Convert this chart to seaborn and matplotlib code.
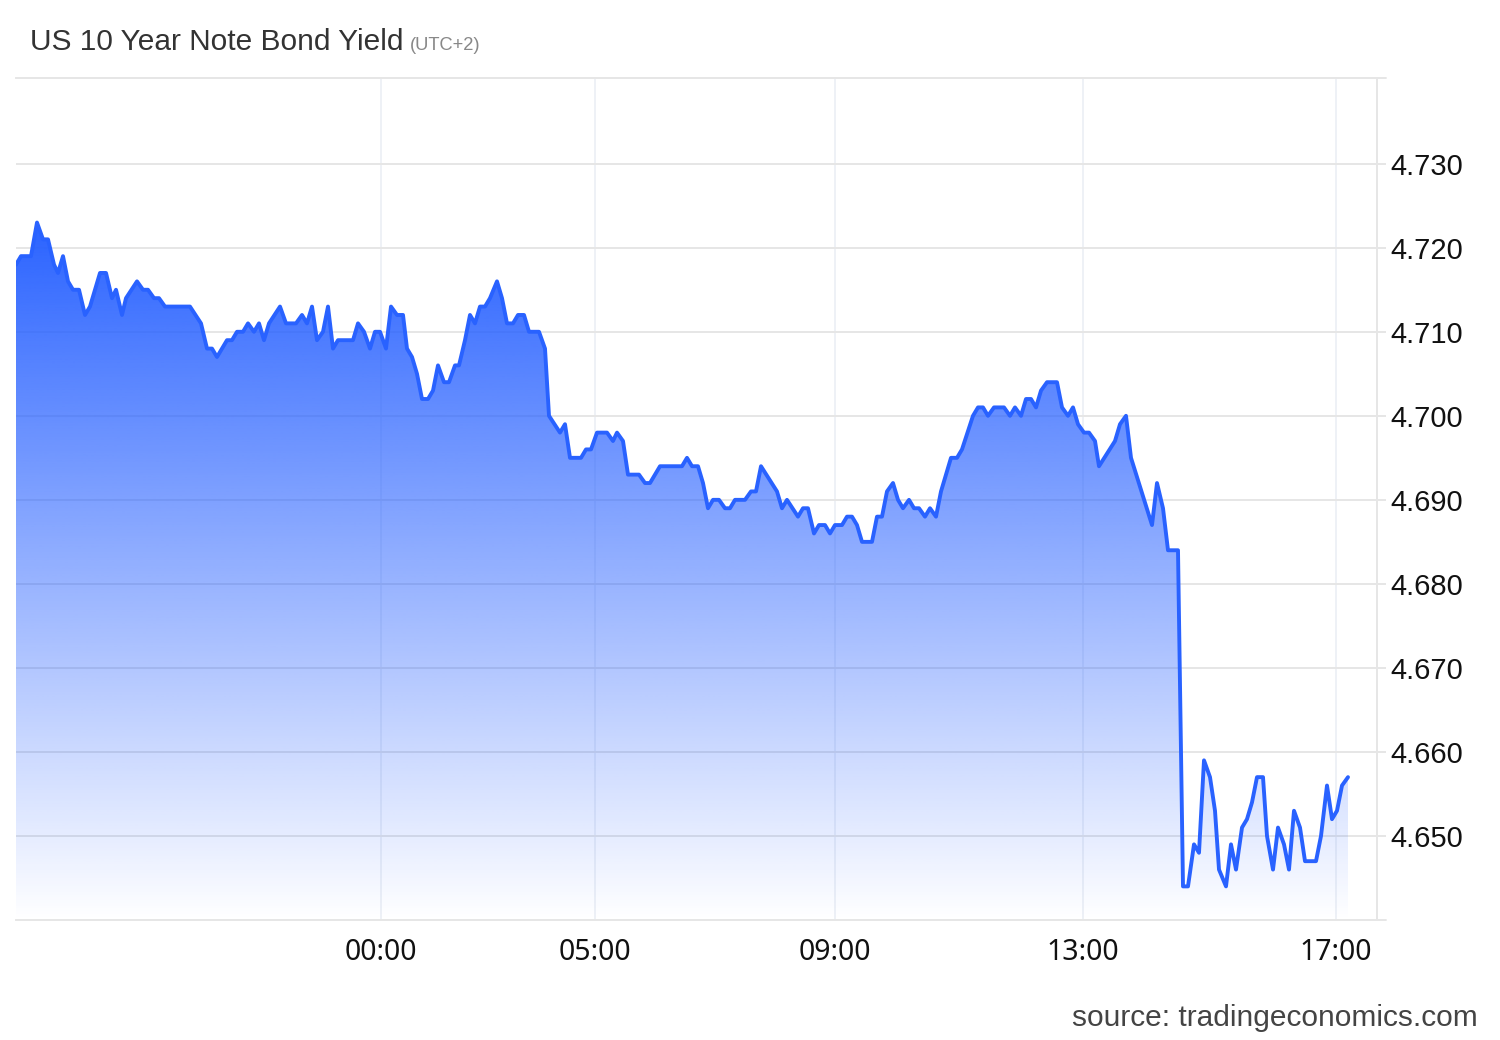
import numpy as np
import pandas as pd
import matplotlib
matplotlib.use("Agg")
import matplotlib.pyplot as plt
import seaborn as sns
from matplotlib.patches import Polygon

# ---------------- data ----------------
x_pos = [0, 5, 11, 15, 21, 27, 32, 38, 42, 47, 52, 57, 63, 69, 74, 84, 90, 96, 100, 106,
         110, 121, 127, 132, 138, 143, 149, 174, 185, 191, 196, 201, 211, 216, 221, 227, 232, 238,
         243, 248, 253, 264, 270, 280, 286, 291, 296, 301, 307, 312, 317, 322, 337, 342, 348, 354,
         359, 364, 370, 375, 381, 387, 391, 396, 401, 406, 412, 417, 422, 428, 433, 439, 443, 449,
         454, 459, 464, 469, 474, 481, 486, 491, 497, 502, 508, 513, 523, 529, 533, 544, 549, 554,
         565, 570, 575, 581, 591, 597, 601, 607, 612, 623, 629, 634, 644, 666, 671, 676, 682, 687,
         692, 697, 703, 709, 714, 719, 729, 735, 740, 745, 761, 766, 771, 782, 787, 792, 798, 803,
         809, 814, 819, 826, 831, 836, 841, 846, 856, 861, 866, 871, 877, 882, 887, 893, 898, 903,
         909, 914, 920, 925, 935, 941, 946, 957, 962, 967, 972, 978, 988, 994, 999, 1005, 1010,
         1015, 1020, 1025, 1031, 1041, 1046, 1052, 1057, 1062, 1068, 1073, 1079, 1083, 1099, 1104,
         1110, 1115, 1136, 1141, 1147, 1152, 1162, 1167, 1172, 1178, 1183, 1188, 1194, 1199, 1203,
         1210, 1215, 1220, 1226, 1231, 1236, 1241, 1247, 1251, 1257, 1262, 1268, 1273, 1278, 1284,
         1289, 1300, 1305, 1311, 1316, 1321, 1326, 1332]
yield_pct = [4.718, 4.719, 4.719, 4.719, 4.723, 4.721, 4.721, 4.718, 4.717, 4.719, 4.716, 4.715,
             4.715, 4.712, 4.713, 4.717, 4.717, 4.714, 4.715, 4.712, 4.714, 4.716, 4.715, 4.715,
             4.714, 4.714, 4.713, 4.713, 4.711, 4.708, 4.708, 4.707, 4.709, 4.709, 4.710, 4.710,
             4.711, 4.710, 4.711, 4.709, 4.711, 4.713, 4.711, 4.711, 4.712, 4.711, 4.713, 4.709,
             4.710, 4.713, 4.708, 4.709, 4.709, 4.711, 4.710, 4.708, 4.710, 4.710, 4.708, 4.713,
             4.712, 4.712, 4.708, 4.707, 4.705, 4.702, 4.702, 4.703, 4.706, 4.704, 4.704, 4.706,
             4.706, 4.709, 4.712, 4.711, 4.713, 4.713, 4.714, 4.716, 4.714, 4.711, 4.711, 4.712,
             4.712, 4.710, 4.710, 4.708, 4.700, 4.698, 4.699, 4.695, 4.695, 4.696, 4.696, 4.698,
             4.698, 4.697, 4.698, 4.697, 4.693, 4.693, 4.692, 4.692, 4.694, 4.694, 4.695, 4.694,
             4.694, 4.692, 4.689, 4.690, 4.690, 4.689, 4.689, 4.690, 4.690, 4.691, 4.691, 4.694,
             4.691, 4.689, 4.690, 4.688, 4.689, 4.689, 4.686, 4.687, 4.687, 4.686, 4.687, 4.687,
             4.688, 4.688, 4.687, 4.685, 4.685, 4.688, 4.688, 4.691, 4.692, 4.690, 4.689, 4.690,
             4.689, 4.689, 4.688, 4.689, 4.688, 4.691, 4.695, 4.695, 4.696, 4.700, 4.701, 4.701,
             4.700, 4.701, 4.701, 4.700, 4.701, 4.700, 4.702, 4.702, 4.701, 4.703, 4.704, 4.704,
             4.701, 4.700, 4.701, 4.699, 4.698, 4.698, 4.697, 4.694, 4.697, 4.699, 4.700, 4.695,
             4.687, 4.692, 4.689, 4.684, 4.684, 4.644, 4.644, 4.649, 4.648, 4.659, 4.657, 4.653,
             4.646, 4.644, 4.649, 4.646, 4.651, 4.652, 4.654, 4.657, 4.657, 4.650, 4.646, 4.651,
             4.649, 4.646, 4.653, 4.651, 4.647, 4.647, 4.650, 4.656, 4.652, 4.653, 4.656, 4.657]

tick_pos = [365, 579, 819, 1067, 1320]
tick_labels = ["00:00", "05:00", "09:00", "13:00", "17:00"]
y_ticks = [4.650, 4.660, 4.670, 4.680, 4.690, 4.700, 4.710, 4.720, 4.730]

title = "US 10 Year Note Bond Yield"
subtitle = "(UTC+2)"
source = "source: tradingeconomics.com"

df = pd.DataFrame({"pos": x_pos, "yield": yield_pct})

# ---------------- styling ----------------
sns.set_style("white")
plt.rcParams["font.family"] = ["Liberation Sans", "DejaVu Sans"]

LINE = "#2962ff"
GRID = "#e6e6e6"
VGRID = "#eef1f6"

W, H = 1500, 1040
fig = plt.figure(figsize=(W / 100, H / 100), dpi=100)
ax = fig.add_axes([16 / W, 1 - 920 / H, (1377 - 16) / W, (920 - 78) / H])

YMIN, YMAX = 4.640, 4.7402
XMAX = 1361
ax.set_xlim(0, XMAX)
ax.set_ylim(YMIN, YMAX)

# vertical + horizontal grid
for t in tick_pos:
    ax.axvline(t, color=VGRID, lw=1.4, zorder=0)
for yt in y_ticks:
    ax.axhline(yt, color=GRID, lw=1.4, zorder=0)

# gradient fill below the line
rgb = np.array(matplotlib.colors.to_rgb(LINE))
ny = 600
yy = np.linspace(YMAX, YMIN, ny)
alpha = np.clip((yy - YMIN) / 0.0833, 0, 1)
img = np.zeros((ny, 2, 4))
img[:, :, :3] = rgb
img[:, :, 3] = alpha[:, None]
xs = df["pos"].to_numpy()
ys = df["yield"].to_numpy()
im = ax.imshow(img, extent=(xs[0], xs[-1], YMIN, YMAX), aspect="auto",
               origin="upper", zorder=1, interpolation="bilinear")
verts = np.column_stack([np.r_[xs, xs[-1], xs[0]], np.r_[ys, YMIN, YMIN]])
poly = Polygon(verts, closed=True, facecolor="none", edgecolor="none",
               transform=ax.transData)
ax.add_patch(poly)
im.set_clip_path(poly)

sns.lineplot(data=df, x="pos", y="yield", ax=ax, color=LINE, linewidth=2.8,
             estimator=None, sort=False, zorder=3)

# axes cosmetics
ax.set_xlabel("")
ax.set_ylabel("")
ax.spines["left"].set_visible(False)
for s in ("top", "bottom", "right"):
    ax.spines[s].set_color(GRID)
    ax.spines[s].set_linewidth(1.4)

ax.set_xticks(tick_pos)
ax.set_xticklabels(tick_labels, fontsize=20.5, color="#111111",
                   family=["Noto Sans", "DejaVu Sans"])
ax.tick_params(axis="x", length=0, pad=13)

ax.yaxis.tick_right()
ax.set_yticks(y_ticks)
ax.set_yticklabels([f"{v:.3f}" for v in y_ticks], fontsize=21, color="#111111")
ax.tick_params(axis="y", length=6.5, width=1.4, color=GRID, pad=3)

# small extensions of top/bottom border past the right axis line
for yv in (0, 1):
    ax.plot([1, 1 + 9 / (1377 - 16)], [yv, yv], transform=ax.transAxes,
            color=GRID, lw=1.4, clip_on=False)

# title
t = fig.text(30 / W, 1 - 50 / H, title, fontsize=21.5, color="#333333",
             ha="left", va="baseline")
fig.canvas.draw()
bb = t.get_window_extent(renderer=fig.canvas.get_renderer())
fig.text((bb.x1 + 6) / W, 1 - 50 / H, subtitle, fontsize=13.2, color="#888888",
         ha="left", va="baseline")

# source
fig.text(1478 / W, 1 - 1026 / H, source, fontsize=21.5, color="#444444",
         ha="right", va="baseline")

fig.savefig("out.png", dpi=100, facecolor="white")
